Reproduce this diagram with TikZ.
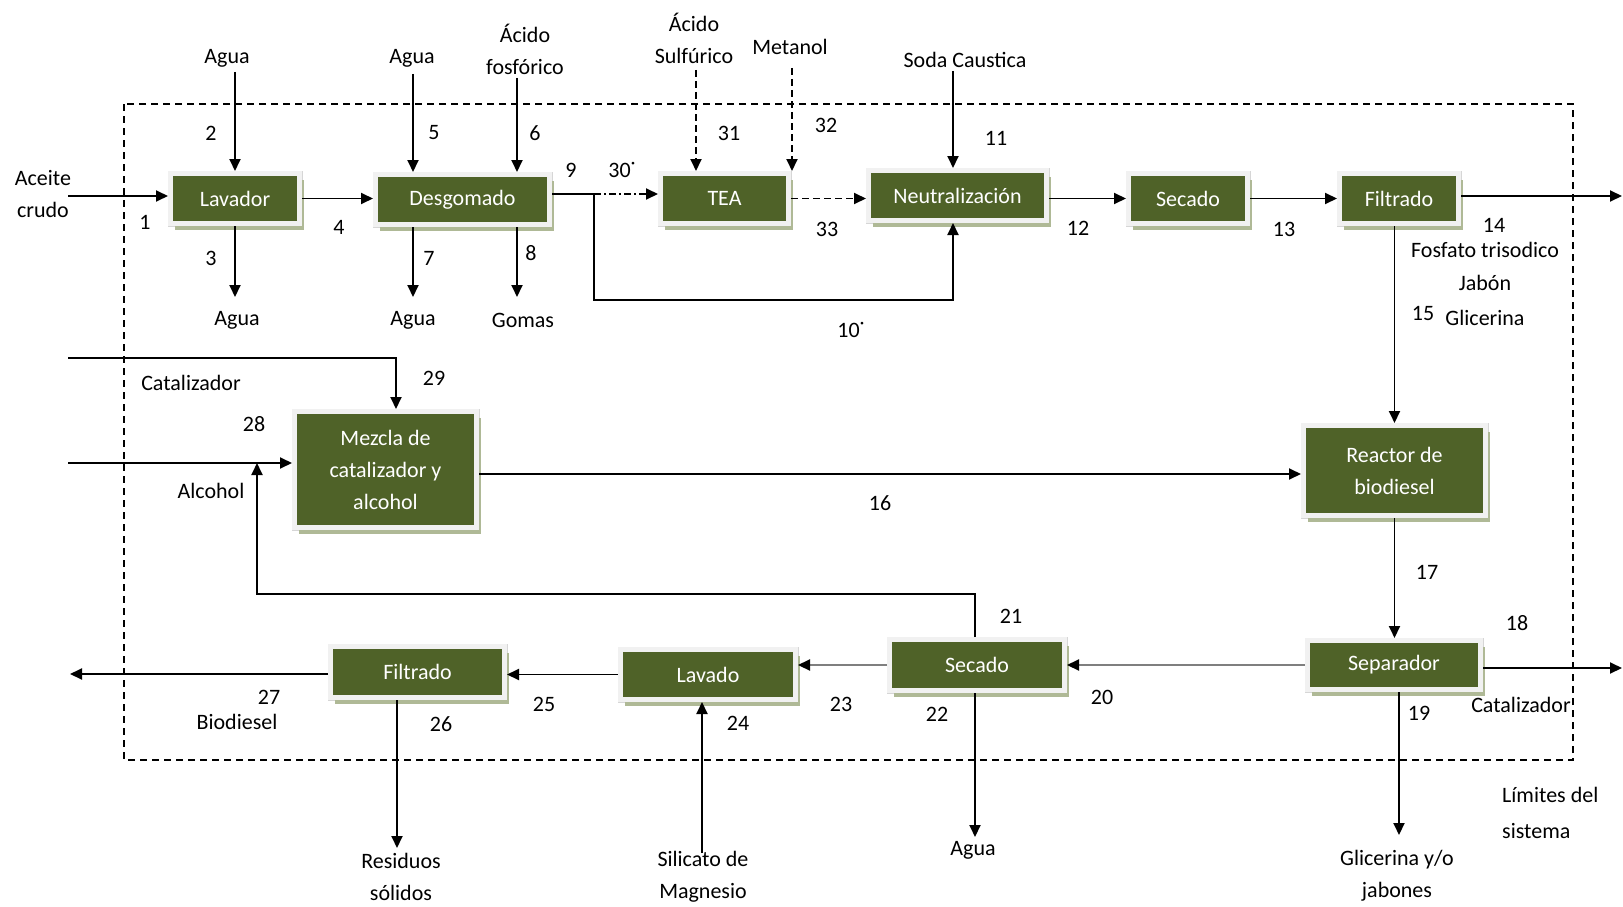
\documentclass[tikz,border=0pt]{standalone}
\usepackage{fontspec}
\setmainfont{Carlito}
\usetikzlibrary{arrows.meta,shadows,calc}

\definecolor{procgreen}{HTML}{4F6228}
\definecolor{framegray}{HTML}{F1F1F1}
\definecolor{framedark}{HTML}{D6D6D6}
\definecolor{shadegreen}{HTML}{AFB996}
\definecolor{flowgray}{HTML}{7F7F7F}

\tikzset{
  txt/.style={font=\fontsize{22}{32}\selectfont},
  proc/.style={txt, fill=procgreen, draw=framegray, line width=5pt, text=white,
    align=center, inner sep=0pt,
    preaction={draw=framedark, line width=6pt},
    drop shadow={shadow xshift=4.5pt, shadow yshift=-6pt, fill=shadegreen, opacity=1}},
  lbl/.style={txt, align=center, inner sep=0pt},
  plain/.style={line width=1.9pt},
  flow/.style={plain, -{Triangle[length=12pt,width=11pt]}},
  grayflow/.style={flow, draw=flowgray, line width=2.2pt, -{Triangle[length=12pt,width=11pt,color=black]}},
  dashflow/.style={flow, dash pattern=on 7pt off 4pt},
  dotflow/.style={flow, dash pattern=on 7pt off 3pt on 2pt off 3pt},
  sysline/.style={line width=1.6pt, dash pattern=on 7pt off 5pt},
}

\begin{document}
\begin{tikzpicture}[x=1pt,y=-1pt]
\fill[white] (0,0) rectangle (1623,907);
\useasboundingbox (0,0) rectangle (1623,907);

% system boundary
\draw[sysline] (124,104) rectangle (1573,760);

% process units
\node[proc, minimum width=129pt, minimum height=50pt] (lav) at (235,198.5) {Lavador};
\node[proc, minimum width=174pt, minimum height=50pt] (des) at (462.5,199.5) {Desgomado};
\node[proc, minimum width=128pt, minimum height=50pt] (tea) at (724.5,198.5) {TEA};
\node[proc, minimum width=178pt, minimum height=50pt] (neu) at (957.5,195.5) {Neutralización};
\node[proc, minimum width=119pt, minimum height=50pt] (sec) at (1188,198.5) {Secado};
\node[proc, minimum width=119pt, minimum height=50pt] (fil) at (1399,198.5) {Filtrado};
\node[proc, minimum width=182pt, minimum height=116pt] (mez) at (385.5,469.5) {Mezcla de\\catalizador y\\alcohol};
\node[proc, minimum width=182pt, minimum height=90pt] (rea) at (1394.5,470.5) {Reactor de\\biodiesel};
\node[proc, minimum width=173pt, minimum height=49pt] (sep) at (1394,665) {Separador};
\node[proc, minimum width=175pt, minimum height=51pt] (seb) at (977,665) {Secado};
\node[proc, minimum width=175pt, minimum height=50pt] (lvd) at (708,674.5) {Lavado};
\node[proc, minimum width=174pt, minimum height=51pt] (fib) at (417.5,672) {Filtrado};

% stream names
\node[lbl] (aceite) at (43,194) {Aceite\\crudo};
\node[lbl] (aguaA) at (227,58) {Agua};
\node[lbl] (aguaB) at (237,320) {Agua};
\node[lbl] (aguaC) at (412,58) {Agua};
\node[lbl] (aguaD) at (413,320) {Agua};
\node[lbl] (fosf) at (525,49) {Ácido\\fosfórico};
\node[lbl] (gomas) at (523,320) {Gomas};
\node[lbl] (sulf) at (694,38) {Ácido\\Sulfúrico};
\node[lbl] (meta) at (790,47) {Metanol};
\node[lbl] (soda) at (965,60) {Soda Caustica};
\node[lbl] (fosfato) at (1485,250) {Fosfato trisodico};
\node[lbl] (jabon) at (1485,283) {Jabón};
\node[lbl] (glic) at (1485,318) {Glicerina};
\node[lbl] (catA) at (191,383) {Catalizador};
\node[lbl] (alc) at (211,491) {Alcohol};
\node[lbl] (catB) at (1521,705) {Catalizador};
\node[lbl] (glij) at (1397,876) {Glicerina y/o\\jabones};
\node[lbl] (aguaE) at (973,850) {Agua};
\node[lbl] (silic) at (703,877) {Silicato de\\Magnesio};
\node[lbl] (resid) at (401,877) {Residuos\\sólidos};
\node[lbl] (biod) at (237,722) {Biodiesel};
\node[txt, align=left, anchor=west, inner sep=0pt, font=\fontsize{22}{36}\selectfont] (lim) at (1502,813) {Límites del\\sistema};

% stream numbers
\foreach \n/\x/\y in {1/145/222, 2/211/133, 3/211/258, 4/339/227, 5/434/133, 6/535/133,
  7/429/258, 8/531/253, 9/571/170, 11/996/138, 12/1078/228, 13/1284/229, 14/1494/225,
  15/1423/313, 16/880/503, 17/1427/572, 18/1517/623, 19/1419/713, 20/1102/697,
  21/1011/616, 22/937/714, 23/841/704, 24/738/723, 25/544/704, 26/441/724, 27/269/697,
  28/254/424, 29/434/378, 31/729/133, 32/826/125, 33/827/229}
  \node[lbl] (n\n) at (\x,\y) {\n};
\node[lbl] (n10) at (851,330) {10˙};
\node[lbl] (n30) at (622,170) {30˙};

% free ends of streams
\coordinate (acin) at (68,196);
\coordinate (w2) at (235,72);
\coordinate (w3) at (235,297);
\coordinate (w5) at (413,74);
\coordinate (w6) at (517,78);
\coordinate (w7) at (413,297);
\coordinate (w8) at (517,297);
\coordinate (br) at (594,194);
\coordinate (w10) at (953,300);
\coordinate (w11) at (953,71);
\coordinate (w31) at (696,70);
\coordinate (w32) at (792,68);
\coordinate (w14) at (1622,196);
\coordinate (c29) at (68,358);
\coordinate (c29b) at (396,358);
\coordinate (c28) at (68,463);
\coordinate (w16) at (0,474);
\coordinate (w18) at (1622,668);
\coordinate (w19) at (1399,835);
\coordinate (r1) at (975,594);
\coordinate (r2) at (257,594);
\coordinate (w22) at (975,837);
\coordinate (w24) at (702,853);
\coordinate (w26) at (397,848);
\coordinate (w27) at (70,674);

% pretreatment line
\draw[flow] (acin) -- (acin -| lav.west);
\draw[flow] (w2) -- (w2 |- lav.north);
\draw[flow] (w3 |- lav.south) -- (w3);
\draw[flow] (lav.east) -- (lav.east -| des.west);
\draw[flow] (w5) -- (w5 |- des.north);
\draw[flow] (w6) -- (w6 |- des.north);
\draw[flow] (w7 |- des.south) -- (w7);
\draw[flow] (w8 |- des.south) -- (w8);
\draw[plain] (des.east |- br) -- (br);
\draw[dotflow] (br) -- (br -| tea.west);
\draw[flow] (br) |- (w10) -- (w10 |- neu.south);
\draw[dashflow] (w31) -- (w31 |- tea.north);
\draw[dashflow] (w32) -- (w32 |- tea.north);
\draw[dashflow] (tea.east) -- (tea.east -| neu.west);
\draw[flow] (w11) -- (w11 |- neu.north);
\draw[flow] (sec.west -| neu.east) -- (sec.west);
\draw[flow] (sec.east) -- (fil.west);
\draw[flow] (fil.east |- w14) -- (w14);
\draw[flow] (rea.north |- fil.south) -- (rea.north);

% transesterification
\draw[flow] (c29) -- (c29b) -- (c29b |- mez.north);
\draw[flow] (c28) -- (c28 -| mez.west);
\draw[flow] (mez.east |- w16) -- (rea.west |- w16);
\draw[flow] (rea.south) -- (rea.south |- sep.north);
\draw[flow] (sep.east |- w18) -- (w18);
\draw[flow] (w19 |- sep.south) -- (w19);

% purification line
\draw[grayflow] (sep.west) -- (sep.west -| seb.east);
\draw[flow] (r1 |- seb.north) -- (r1) -- (r2) -- (r2 |- c28);
\draw[flow] (w22 |- seb.south) -- (w22);
\draw[grayflow] (seb.west) -- (seb.west -| lvd.east);
\draw[flow] (w24) -- (w24 |- lvd.south);
\draw[flow] (lvd.west) -- (lvd.west -| fib.east);
\draw[flow] (w26 |- fib.south) -- (w26);
\draw[flow] (fib.west |- w27) -- (w27);
\end{tikzpicture}
\end{document}
